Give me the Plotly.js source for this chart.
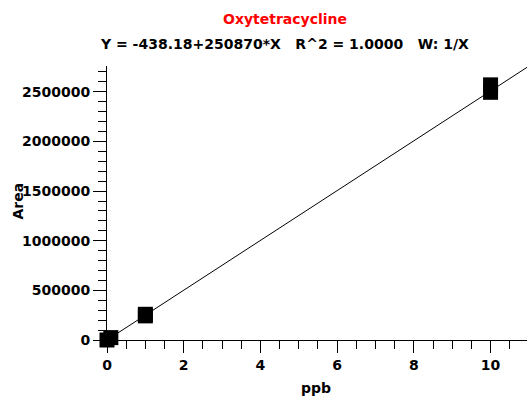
<!DOCTYPE html>
<html><head><meta charset="utf-8">
<script src="https://cdn.plot.ly/plotly-3.0.1.min.js"></script>
<style>html,body{margin:0;padding:0;background:#fff;}#chart{width:527px;height:399px;}</style>
</head><body><div id="chart"></div>
<script>
// Calibration data (ppb vs Area)
const concentrations = [0, 0.1, 1, 1, 10, 10];
const areas = [0, 24000, 259000, 243000, 2570000, 2495000];
// Regression: Y = intercept + slope * X
const intercept = -438.18;
const slope = 250870;
const xRange = [0, 10.95];
const yRange = [0, 2760000];
const yTicks = [0, 500000, 1000000, 1500000, 2000000, 2500000];
const titleLine1 = 'Oxytetracycline';
const titleLine2 = 'Y = -438.18+250870*X   R^2 = 1.0000   W: 1/X';
const xTitle = 'ppb';
const yTitle = 'Area';

const fitX = xRange.slice();
const fitY = fitX.map(x => intercept + slope * x);

const F = 'DejaVu Sans';
const font = (c) => ({family: F, size: 14, color: c || '#000', weight: 'bold'});
const traces = [
  {x: fitX, y: fitY, mode: 'lines', line: {color: '#000', width: 1}, hoverinfo: 'skip', cliponaxis: false},
  {x: concentrations, y: areas, mode: 'markers', marker: {symbol: 'square', size: 15, color: '#000'}, cliponaxis: false}
];
const layout = {
  width: 527, height: 399,
  margin: {l: 107, r: 0, t: 66, b: 59},
  showlegend: false,
  paper_bgcolor: '#fff', plot_bgcolor: '#fff',
  annotations: [
    {text: titleLine1, xref: 'paper', yref: 'paper', x: 0.4238, y: 1.1715, xanchor: 'center', yanchor: 'middle', showarrow: false, font: font('#ff0000')},
    {text: titleLine2, xref: 'paper', yref: 'paper', x: 0.4238, y: 1.0803, xanchor: 'center', yanchor: 'middle', showarrow: false, font: font()},
    {text: xTitle, xref: 'paper', yref: 'paper', x: 0.4976, y: -0.175, xanchor: 'center', yanchor: 'middle', showarrow: false, font: font()},
    {text: yTitle, xref: 'paper', yref: 'paper', x: -0.2107, y: 0.507, xanchor: 'center', yanchor: 'middle', textangle: -90, showarrow: false, font: font()}
  ],
  xaxis: {
    range: xRange, dtick: 2, tick0: 0,
    ticks: 'outside', ticklen: 12, tickwidth: 1, tickcolor: '#000',
    minor: {dtick: 0.5, ticks: 'outside', ticklen: 8, tickcolor: '#000', showgrid: false},
    showline: true, linecolor: '#000', linewidth: 1,
    showgrid: false, zeroline: false,
    tickfont: font()
  },
  yaxis: {
    range: yRange, tickvals: yTicks, tickformat: 'd',
    ticks: 'outside', ticklen: 13, tickwidth: 1, tickcolor: '#000',
    minor: {dtick: 100000, ticks: 'outside', ticklen: 8, tickcolor: '#000', showgrid: false},
    showline: true, linecolor: '#000', linewidth: 1,
    showgrid: false, zeroline: false,
    tickfont: font()
  }
};
Plotly.newPlot('chart', traces, layout, {displayModeBar: false, staticPlot: true});
</script></body></html>
